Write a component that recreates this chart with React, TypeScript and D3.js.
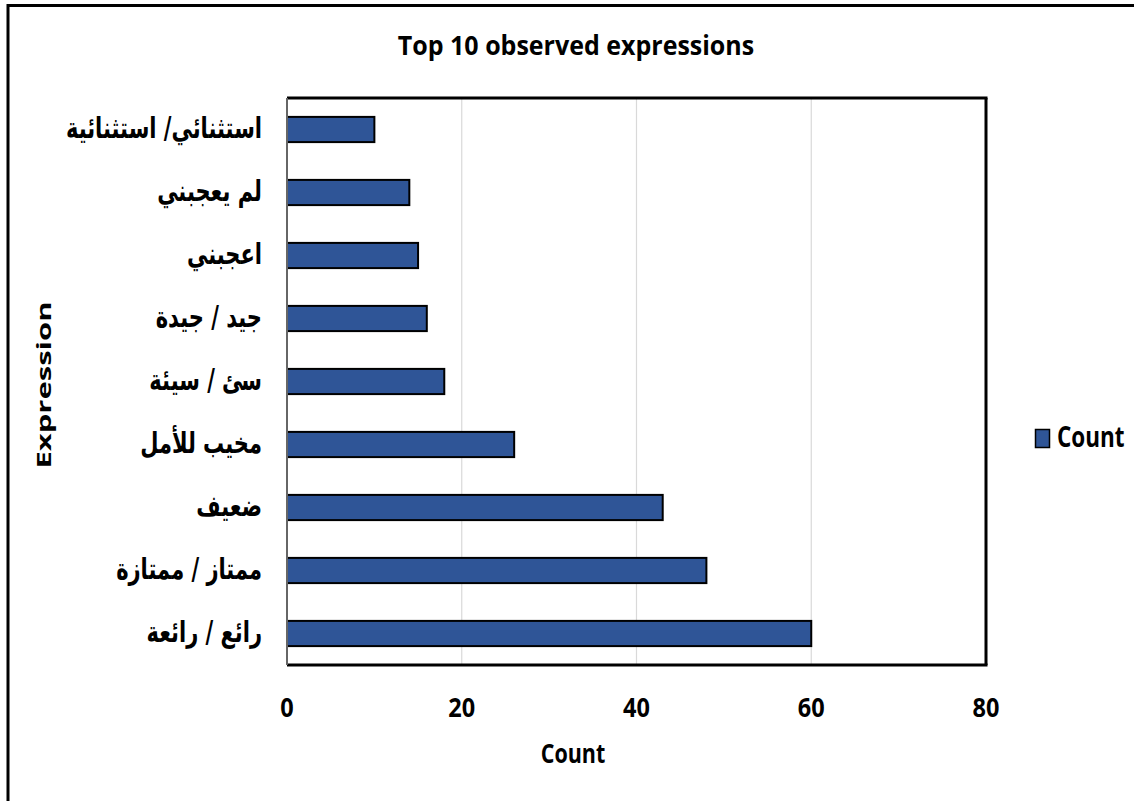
import React from "react";
import * as d3 from "d3";

const categories = [
  "استثنائي/ استثنائية",
  "لم يعجبني",
  "اعجبني",
  "جيد / جيدة",
  "سئ / سيئة",
  "مخيب للأمل",
  "ضعيف",
  "ممتاز / ممتازة",
  "رائع / رائعة",
];
const counts = [10, 14, 15, 16, 18, 26, 43, 48, 60];
const xTicks = [0, 20, 40, 60, 80];

const W = 1134;
const H = 801;
const plot = { left: 287, right: 986, top: 98, bottom: 665 };
const latin = "'Open Sans', sans-serif";
const arabic = "'DejaVu Sans', sans-serif";
const barColor = "#2F5597";

type LabelProps = {
  x: number;
  y: number;
  size: number;
  sx?: number;
  sy?: number;
  anchor?: "start" | "middle" | "end";
  family?: string;
  rotate?: number;
  children: React.ReactNode;
};

// Bold label drawn at a baseline point, with optional stretch in its own frame
function Label({ x, y, size, sx = 1, sy = 1, anchor = "start", family = latin, rotate = 0, children }: LabelProps) {
  return (
    <text
      transform={`translate(${x},${y}) rotate(${rotate}) scale(${sx},${sy})`}
      textAnchor={anchor}
      fontFamily={family}
      fontWeight={700}
      fontSize={size}
      fill="#000"
    >
      {children}
    </text>
  );
}

export default function App() {
  const x = d3.scaleLinear().domain([0, 80]).range([plot.left, plot.right]);
  const y = d3
    .scaleBand<string>()
    .domain(categories)
    .range([plot.top, plot.bottom])
    .paddingInner(0.6)
    .paddingOuter(0.3);

  const arSize = 21;
  const arSy = 1.4;

  return (
    <svg
      width={W}
      height={H}
      style={{ position: "absolute", left: 0, top: 0, background: "#fff" }}
    >
      {/* outer frame */}
      <rect x={8} y={5.5} width={W + 20} height={H + 20} fill="none" stroke="#000" strokeWidth={3} />

      <Label x={576} y={55} size={25} sy={1.05} anchor="middle">
        Top 10 observed expressions
      </Label>

      {/* vertical grid */}
      {xTicks.slice(1, -1).map((t) => (
        <line key={t} x1={x(t)} x2={x(t)} y1={plot.top} y2={plot.bottom} stroke="#d9d9d9" strokeWidth={1.2} />
      ))}

      {/* bars */}
      {categories.map((c, i) => (
        <rect
          key={c}
          x={x(0)}
          y={y(c)!}
          width={x(counts[i]) - x(0)}
          height={y.bandwidth()}
          fill={barColor}
          stroke="#000"
          strokeWidth={2}
        />
      ))}

      {/* plot frame */}
      <line x1={plot.left} x2={plot.right + 1.5} y1={plot.top} y2={plot.top} stroke="#000" strokeWidth={3} />
      <line x1={plot.right} x2={plot.right} y1={plot.top} y2={plot.bottom} stroke="#000" strokeWidth={3} />
      <line x1={plot.left} x2={plot.right + 1.5} y1={plot.bottom} y2={plot.bottom} stroke="#000" strokeWidth={3} />
      <line x1={plot.left} x2={plot.left} y1={plot.top} y2={plot.bottom} stroke="#666" strokeWidth={2} />

      {/* category labels */}
      {categories.map((c) => (
        <Label
          key={c}
          x={262}
          y={y(c)! + y.bandwidth() / 2 + 0.3 * arSize * arSy}
          size={arSize}
          sy={arSy}
          anchor="end"
          family={arabic}
        >
          {c}
        </Label>
      ))}

      {/* x tick labels */}
      {xTicks.map((t) => (
        <Label key={t} x={x(t)} y={717} size={23.5} sy={1.13} anchor="middle">
          {t}
        </Label>
      ))}

      <Label x={573} y={763} size={21.5} sy={1.22} anchor="middle">
        Count
      </Label>

      <Label x={51} y={385} size={20} sx={1.55} anchor="middle" rotate={-90}>
        Expression
      </Label>

      {/* legend */}
      <rect x={1035.5} y={429.5} width={14} height={18} fill={barColor} stroke="#000" strokeWidth={1.5} />
      <Label x={1057} y={447} size={22.5} sy={1.25}>
        Count
      </Label>
    </svg>
  );
}
